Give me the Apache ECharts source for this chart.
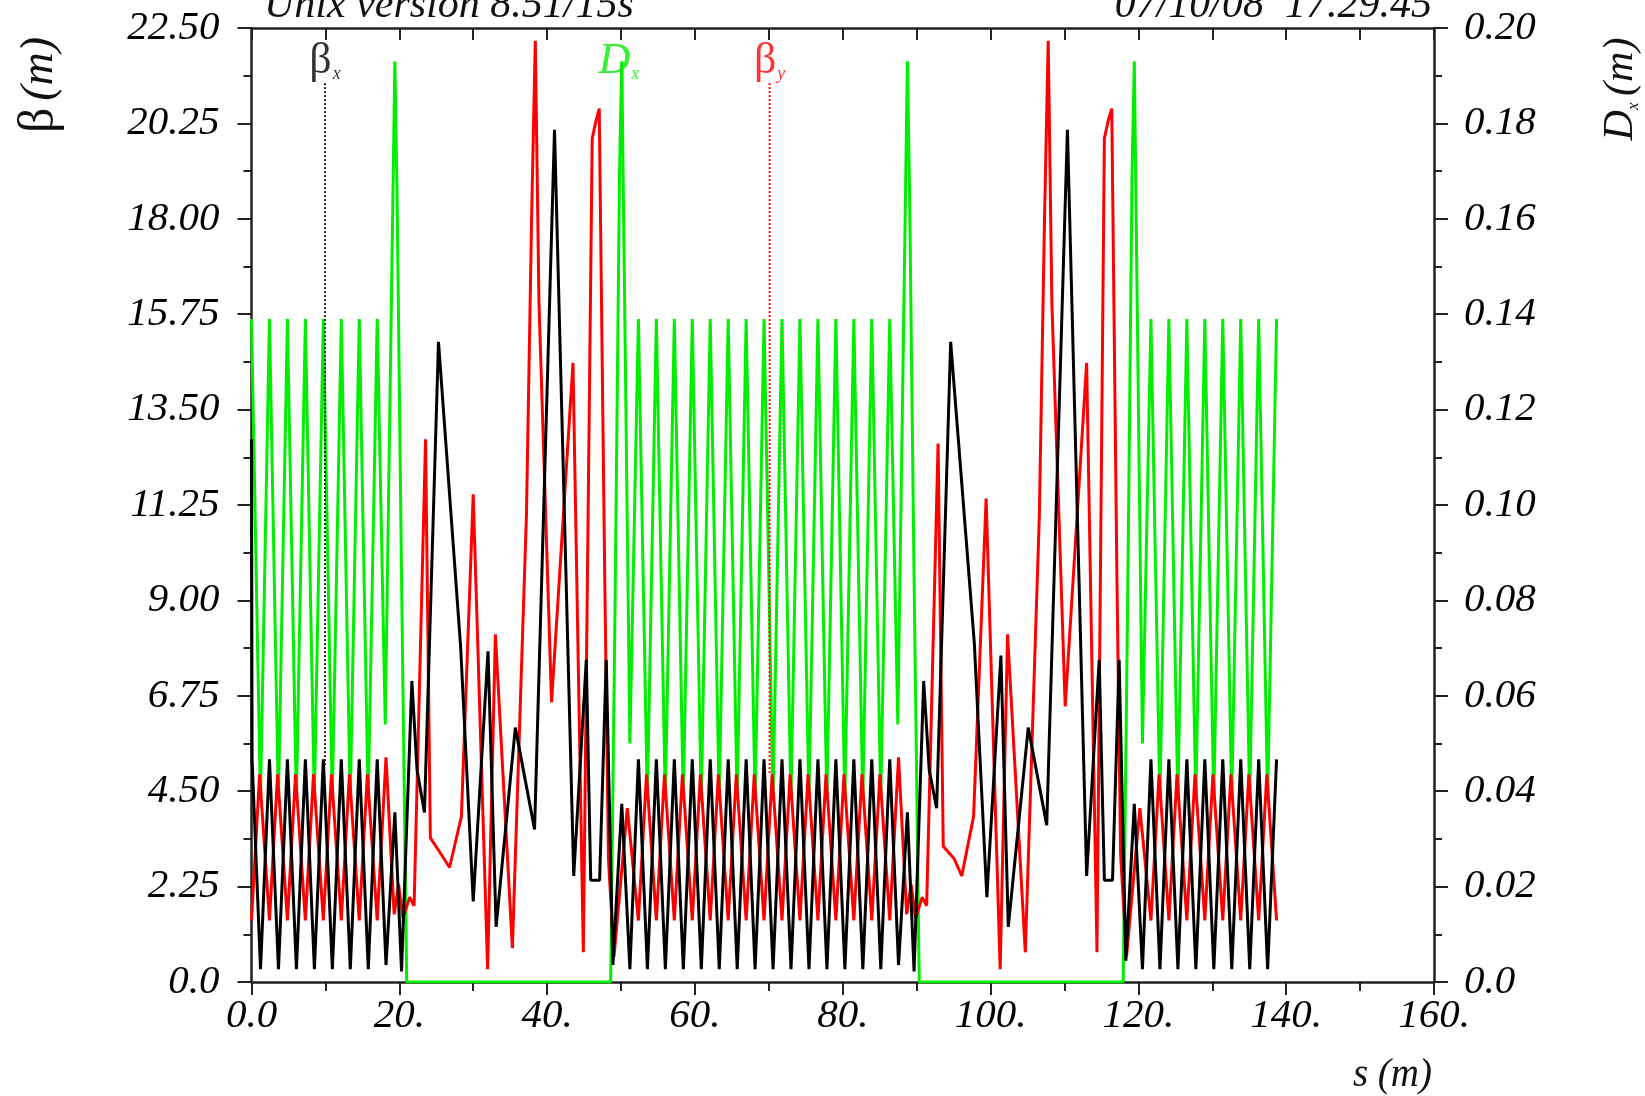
<!DOCTYPE html>
<html>
<head>
<meta charset="utf-8">
<script src="https://cdn.jsdelivr.net/npm/echarts@6/dist/echarts.min.js"></script>
<style>
  html, body { margin: 0; padding: 0; background: #ffffff; }
  #chart { width: 1645px; height: 1096px; }
</style>
</head>
<body>
<div id="chart"></div>
<script>
// ---- tick labels ----
const sTickLabels = ['0.0', '20.', '40.', '60.', '80.', '100.', '120.', '140.', '160.'];
const betaTickLabels = ['0.0', '2.25', '4.50', '6.75', '9.00', '11.25', '13.50', '15.75', '18.00', '20.25', '22.50'];
const dispTickLabels = ['0.0', '0.02', '0.04', '0.06', '0.08', '0.10', '0.12', '0.14', '0.16', '0.18', '0.20'];

// ---- beta_x (m) : [s, value] ----
const betaX = [
  [0,12.8],[0.08,5.25],[1.22,0.3],[2.43,5.25],[3.65,0.3],[4.86,5.25],[6.08,0.3],[7.29,5.25],[8.51,0.3],
  [9.72,5.25],[10.94,0.3],[12.15,5.25],[13.37,0.3],[14.58,5.25],[15.8,0.3],[17.01,5.25],[18.2,0.4],
  [19.4,4.0],[20.3,0.25],[21.7,7.1],[22.4,5.0],[23.4,4.0],[25.3,15.1],[28.3,7.9],[30.0,1.9],[32.0,7.8],
  [33.1,1.3],[35.7,6.0],[38.3,3.6],[41.0,20.1],[43.6,2.5],[45.3,7.6],[45.9,2.4],[47.1,2.4],[48.0,7.6],
  [48.9,0.4],[50.1,4.2],[51.2,0.3],[52.35,5.25],[53.57,0.3],[54.78,5.25],[56.0,0.3],[57.21,5.25],
  [58.43,0.3],[59.64,5.25],[60.86,0.3],[62.07,5.25],[63.29,0.3],[64.5,5.25],[65.72,0.3],[66.93,5.25],
  [68.14,0.3],[69.35,5.25],[70.57,0.3],[71.78,5.25],[73.0,0.3],[74.21,5.25],[75.43,0.3],[76.64,5.25],
  [77.86,0.3],[79.07,5.25],[80.29,0.3],[81.5,5.25],[82.72,0.3],[83.93,5.25],[85.15,0.3],[86.36,5.25],
  [87.55,0.4],[88.75,4.0],[89.65,0.25],[90.95,7.1],[91.7,5.0],[92.7,4.1],[94.6,15.1],[97.8,8.0],
  [99.5,2.0],[101.4,7.7],[102.4,1.3],[105.1,6.0],[107.6,3.7],[110.4,20.1],[113.0,2.5],[114.7,7.6],
  [115.4,2.4],[116.5,2.4],[117.4,7.6],[118.3,0.5],[119.45,4.2],[120.55,0.3],[121.7,5.25],[122.92,0.3],
  [124.13,5.25],[125.35,0.3],[126.56,5.25],[127.78,0.3],[128.99,5.25],[130.21,0.3],[131.42,5.25],
  [132.64,0.3],[133.85,5.25],[135.07,0.3],[136.28,5.25],[137.49,0.3],[138.7,5.25]
];

// ---- beta_y (m) : [s, value] ----
const betaY = [
  [0,1.45],[1.1,4.9],[2.43,1.45],[3.53,4.9],[4.86,1.45],[5.96,4.9],[7.29,1.45],[8.39,4.9],[9.72,1.45],
  [10.82,4.9],[12.15,1.45],[13.25,4.9],[14.58,1.45],[15.68,4.9],[17.01,1.45],[18.2,5.3],[19.3,1.6],
  [19.9,2.3],[20.5,1.5],[21.4,2.0],[22.0,1.8],[23.55,12.8],[24.2,3.4],[25.7,3.0],[26.8,2.7],[28.4,3.9],
  [30.0,11.5],[31.95,0.3],[33.0,8.2],[35.3,0.8],[37.2,11.0],[37.9,18.0],[38.4,22.2],[38.9,16.0],
  [40.6,6.6],[43.5,14.6],[44.9,0.7],[46.1,19.9],[46.6,20.3],[47.05,20.6],[47.8,9.5],[48.3,2.9],
  [49.05,0.6],[50.85,4.1],[52.35,1.45],[53.45,4.9],[54.78,1.45],[55.88,4.9],[57.21,1.45],[58.31,4.9],
  [59.64,1.45],[60.74,4.9],[62.07,1.45],[63.17,4.9],[64.5,1.45],[65.6,4.9],[66.93,1.45],[68.03,4.9],
  [69.35,1.45],[70.45,4.9],[71.78,1.45],[72.88,4.9],[74.21,1.45],[75.31,4.9],[76.64,1.45],[77.74,4.9],
  [79.07,1.45],[80.17,4.9],[81.5,1.45],[82.6,4.9],[83.93,1.45],[85.03,4.9],[86.36,1.45],[87.55,5.3],
  [88.65,1.6],[89.25,2.3],[89.85,1.5],[90.75,2.0],[91.35,1.8],[92.9,12.7],[93.6,3.2],[95.1,2.9],
  [96.1,2.5],[97.7,3.9],[99.4,11.4],[101.3,0.3],[102.3,8.2],[104.7,0.7],[106.6,11.0],[107.3,18.0],
  [107.8,22.2],[108.3,16.0],[110.1,6.5],[113.0,14.6],[114.4,0.7],[115.4,19.9],[115.9,20.3],[116.4,20.6],
  [117.1,9.5],[117.6,3.0],[118.4,0.6],[120.2,4.1],[121.7,1.45],[122.8,4.9],[124.13,1.45],[125.23,4.9],
  [126.56,1.45],[127.66,4.9],[128.99,1.45],[130.09,4.9],[131.42,1.45],[132.52,4.9],[133.85,1.45],
  [134.95,4.9],[136.28,1.45],[137.38,4.9],[138.7,1.45]
];

// ---- D_x (m) : [s, value] ----
const dispX = [
  [0,0.139],[1.21,0.038],[2.43,0.139],[3.64,0.038],[4.86,0.139],[6.07,0.038],[7.29,0.139],[8.5,0.038],
  [9.72,0.139],[10.93,0.038],[12.15,0.139],[13.36,0.038],[14.58,0.139],[15.79,0.038],[17.01,0.139],
  [18.1,0.054],[19.4,0.193],[19.7,0.165],[20.3,0.085],[21.0,0],[48.6,0],[49.2,0.08],[49.8,0.17],
  [50.1,0.193],[51.2,0.05],[52.35,0.139],[53.56,0.038],[54.78,0.139],[55.99,0.038],[57.21,0.139],
  [58.42,0.038],[59.64,0.139],[60.85,0.038],[62.07,0.139],[63.28,0.038],[64.5,0.139],[65.71,0.038],
  [66.93,0.139],[68.14,0.038],[69.35,0.139],[70.56,0.038],[71.78,0.139],[72.99,0.038],[74.21,0.139],
  [75.42,0.038],[76.64,0.139],[77.85,0.038],[79.07,0.139],[80.28,0.038],[81.5,0.139],[82.71,0.038],
  [83.93,0.139],[85.14,0.038],[86.36,0.139],[87.45,0.054],[88.75,0.193],[89.05,0.165],[89.65,0.085],
  [90.35,0],[117.95,0],[118.55,0.08],[119.15,0.17],[119.45,0.193],[120.55,0.05],[121.7,0.139],
  [122.91,0.038],[124.13,0.139],[125.34,0.038],[126.56,0.139],[127.77,0.038],[128.99,0.139],
  [130.2,0.038],[131.42,0.139],[132.63,0.038],[133.85,0.139],[135.06,0.038],[136.28,0.139],
  [137.49,0.038],[138.7,0.139]
];

// ---- curve label markers ----
const markerBetaX = [[9.94,21.2],[9.94,5.1]];
const markerBetaY = [[70.1,21.2],[70.1,4.9]];
const markerDx = [[49.7,21.2]];

const serif = 'Liberation Serif';
const GREEN = '#00ee00';
const RED = '#ff0000';
const BLACK = '#000000';
const LW = 3;

const chart = echarts.init(document.getElementById('chart'), null, { renderer: 'canvas' });

const labelFont = { fontFamily: serif, fontStyle: 'italic', fontSize: 41, color: '#000' };
const axisLineStyle = { color: '#222', width: 2.5 };

function labelItem(pt, mainTxt, subTxt, color, italicMain) {
  return {
    value: pt,
    label: {
      show: true, position: 'top', distance: 0,
      formatter: '{a|' + mainTxt + '}{b|' + subTxt + '}',
      rich: {
        a: { fontFamily: serif, fontSize: 44, fontStyle: italicMain ? 'italic' : 'normal', color: color },
        b: { fontFamily: serif, fontSize: 18, fontStyle: 'italic', color: color, verticalAlign: 'bottom', padding: [20, 0, 0, 1] }
      }
    }
  };
}

const option = {
  animation: false,
  backgroundColor: '#ffffff',
  grid: { left: 251.5, right: 211, top: 28, bottom: 114, containLabel: false },
  xAxis: [
    {
      type: 'value', position: 'bottom', min: 0, max: 160, interval: 20,
      axisLine: { show: true, onZero: false, lineStyle: axisLineStyle },
      axisTick: { show: true, inside: false, length: 13, lineStyle: { color: '#222', width: 2 } },
      minorTick: { show: true, splitNumber: 2, length: 9, lineStyle: { color: '#222', width: 2 } },
      splitLine: { show: false },
      axisLabel: Object.assign({ margin: 14, formatter: v => sTickLabels[Math.round(v / 20)] }, labelFont)
    },
    {
      type: 'value', position: 'top', min: 0, max: 160, interval: 10,
      axisLine: { show: true, onZero: false, lineStyle: axisLineStyle },
      axisTick: { show: true, inside: true, length: 12, lineStyle: { color: '#222', width: 2 } },
      splitLine: { show: false },
      axisLabel: { show: false }
    }
  ],
  yAxis: [
    {
      type: 'value', position: 'left', min: 0, max: 22.5, interval: 2.25,
      axisLine: { show: true, onZero: false, lineStyle: axisLineStyle },
      axisTick: { show: true, inside: false, length: 14, lineStyle: { color: '#222', width: 2 } },
      minorTick: { show: true, splitNumber: 2, length: 8, lineStyle: { color: '#222', width: 2 } },
      splitLine: { show: false },
      axisLabel: Object.assign({ margin: 32, formatter: v => betaTickLabels[Math.round(v / 2.25)] }, labelFont)
    },
    {
      type: 'value', position: 'right', min: 0, max: 0.2, interval: 0.02,
      axisLine: { show: true, onZero: false, lineStyle: axisLineStyle },
      axisTick: { show: true, inside: false, length: 14, lineStyle: { color: '#222', width: 2 } },
      minorTick: { show: true, splitNumber: 2, length: 8, lineStyle: { color: '#222', width: 2 } },
      splitLine: { show: false },
      axisLabel: Object.assign({ margin: 30, formatter: v => dispTickLabels[Math.round(v / 0.02)] }, labelFont)
    }
  ],
  series: [
    {
      name: 'Dx', type: 'line', xAxisIndex: 0, yAxisIndex: 1, data: dispX,
      showSymbol: false, symbol: 'none', lineStyle: { color: GREEN, width: LW }, z: 2
    },
    {
      name: 'betay', type: 'line', xAxisIndex: 0, yAxisIndex: 0, data: betaY,
      showSymbol: false, symbol: 'none', lineStyle: { color: RED, width: LW }, z: 3
    },
    {
      name: 'betax', type: 'line', xAxisIndex: 0, yAxisIndex: 0, data: betaX,
      showSymbol: false, symbol: 'none', lineStyle: { color: BLACK, width: LW }, z: 4
    },
    {
      name: 'markBx', type: 'line', xAxisIndex: 0, yAxisIndex: 0, data: markerBetaX,
      symbol: 'none', lineStyle: { color: '#222', width: 2, type: 'dotted' }, z: 5
    },
    {
      name: 'markBy', type: 'line', xAxisIndex: 0, yAxisIndex: 0, data: markerBetaY,
      symbol: 'none', lineStyle: { color: RED, width: 2, type: 'dotted' }, z: 5
    },
    {
      name: 'labels', type: 'scatter', xAxisIndex: 0, yAxisIndex: 0,
      data: [
        labelItem(markerBetaX[0], 'β', 'x', BLACK, false),
        labelItem(markerBetaY[0], 'β', 'y', RED, false),
        labelItem(markerDx[0], 'D', 'x', GREEN, true)
      ],
      symbolSize: 0, z: 6
    }
  ],
  graphic: [
    {
      type: 'text', left: 264, top: -15, silent: true,
      style: { text: 'Unix version 8.51/15s', fontFamily: serif, fontStyle: 'italic', fontSize: 42, fill: '#111' }
    },
    {
      type: 'text', right: 213, top: -15, silent: true,
      style: { text: '07/10/08  17.29.45', fontFamily: serif, fontStyle: 'italic', fontSize: 42, fill: '#111' }
    },
    {
      type: 'text', x: 40, y: 85, rotation: Math.PI / 2, silent: true,
      style: {
        text: '{a|β}  {b|(m)}', align: 'center', verticalAlign: 'middle',
        rich: {
          a: { fontFamily: serif, fontSize: 50, fill: '#111' },
          b: { fontFamily: serif, fontStyle: 'italic', fontSize: 46, fill: '#111' }
        }
      }
    },
    {
      type: 'text', x: 1621, y: 89, rotation: Math.PI / 2, silent: true,
      style: {
        text: '{a|D}{s|x}  {b|(m)}', align: 'center', verticalAlign: 'middle',
        rich: {
          a: { fontFamily: serif, fontStyle: 'italic', fontSize: 42, fill: '#111' },
          s: { fontFamily: serif, fontStyle: 'italic', fontSize: 17, fill: '#111', verticalAlign: 'bottom', padding: [16, 0, 0, 0] },
          b: { fontFamily: serif, fontStyle: 'italic', fontSize: 42, fill: '#111' }
        }
      }
    },
    {
      type: 'text', x: 1432, y: 1076, silent: true,
      style: { text: 's (m)', align: 'right', verticalAlign: 'middle', fontFamily: serif, fontStyle: 'italic', fontSize: 39, fill: '#111' }
    }
  ]
};

chart.setOption(option);
</script>
</body>
</html>
